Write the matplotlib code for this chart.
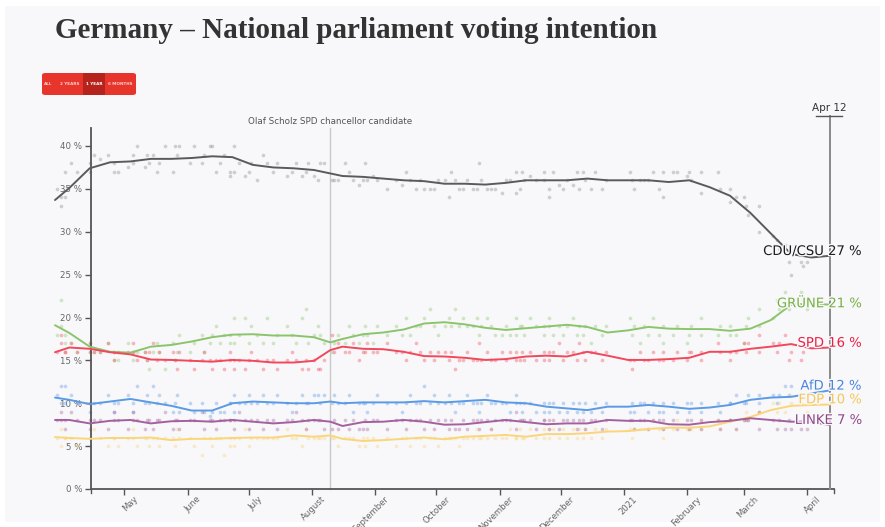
import numpy as np
import matplotlib
matplotlib.use("Agg")
import matplotlib.pyplot as plt
import matplotlib.transforms as mtransforms
from matplotlib.patches import FancyBboxPatch, Rectangle
from matplotlib import patheffects as pe

# ---- data -----------------------------------------------------------------
START = np.datetime64("2020-04-14")

parties = ["CDU/CSU", "GRÜNE", "SPD", "AfD", "FDP", "LINKE"]
latest = [27, 21, 16, 12, 10, 7]

trend_dates = np.array([
    "2020-03-28", "2020-04-04", "2020-04-14", "2020-04-24", "2020-05-04",
    "2020-05-14", "2020-05-24", "2020-06-03", "2020-06-13", "2020-06-23",
    "2020-07-03", "2020-07-13", "2020-07-23", "2020-08-02", "2020-08-10",
    "2020-08-16", "2020-08-26", "2020-09-05", "2020-09-15", "2020-09-25",
    "2020-10-05", "2020-10-15", "2020-10-25", "2020-11-04", "2020-11-14",
    "2020-11-24", "2020-12-04", "2020-12-14", "2020-12-24", "2021-01-03",
    "2021-01-13", "2021-01-23", "2021-02-02", "2021-02-12", "2021-02-22",
    "2021-03-04", "2021-03-14", "2021-03-24", "2021-04-03", "2021-04-12"],
    dtype="datetime64[D]")

trend_cdu = [33.7, 35.1, 37.4, 38.1, 38.2, 38.5, 38.5, 38.6, 38.8, 38.7,
             37.8, 37.5, 37.4, 37.2, 36.8, 36.5, 36.4, 36.2, 36.0, 35.9,
             35.6, 35.6, 35.5, 35.7, 36.0, 36.0, 36.0, 36.2, 36.0, 36.0,
             36.0, 35.8, 36.0, 35.2, 34.2, 32.2, 29.8, 27.4, 27.0, 27.2]
trend_gruene = [19.1, 18.2, 16.6, 16.0, 15.9, 16.6, 16.8, 17.2, 17.7, 18.0,
                18.05, 17.9, 17.9, 17.7, 17.1, 17.5, 18.05, 18.25, 18.6, 19.3,
                19.45, 19.2, 18.8, 18.55, 18.75, 18.95, 19.15, 18.9, 18.25, 18.5,
                18.9, 18.7, 18.65, 18.65, 18.45, 18.7, 19.7, 21.5, 21.6, 21.5]
trend_spd = [15.95, 16.5, 16.35, 15.95, 15.7, 15.1, 15.05, 14.95, 14.85, 15.05,
             14.95, 14.75, 14.75, 14.95, 16.2, 16.6, 16.35, 16.3, 16.0, 15.5,
             15.45, 15.3, 15.05, 15.15, 15.45, 15.55, 15.45, 16.0, 15.55, 15.05,
             15.05, 15.15, 15.3, 16.0, 16.0, 16.35, 16.6, 16.9, 16.4, 16.5]
trend_afd = [10.66, 10.4, 9.9, 10.2, 10.5, 10.1, 9.7, 9.15, 9.15, 10.0,
             10.2, 10.1, 10.0, 10.0, 10.2, 10.0, 10.1, 10.1, 10.1, 10.25,
             10.1, 10.25, 10.4, 10.1, 10.0, 9.6, 9.4, 9.2, 9.6, 9.6,
             9.8, 9.6, 9.35, 9.5, 9.8, 10.4, 10.66, 10.75, 11.15, 11.5]
trend_fdp = [6.05, 5.95, 5.85, 5.95, 5.95, 6.0, 5.7, 5.85, 5.85, 5.95,
             6.0, 6.0, 6.25, 6.1, 6.25, 5.85, 5.6, 5.7, 5.85, 6.0,
             5.8, 6.1, 6.2, 6.3, 6.1, 6.4, 6.4, 6.5, 6.7, 6.75,
             7.0, 7.15, 7.15, 7.3, 7.85, 8.4, 9.2, 9.7, 9.8, 9.85]
trend_linke = [8.05, 8.05, 7.65, 7.95, 8.05, 7.65, 7.9, 7.95, 7.85, 8.05,
               7.85, 7.65, 7.8, 8.05, 7.85, 7.35, 7.8, 7.85, 8.05, 7.85,
               7.5, 7.55, 7.8, 8.05, 7.8, 7.55, 7.65, 7.65, 8.05, 7.95,
               7.95, 7.55, 7.5, 7.8, 7.95, 8.25, 8.05, 7.85, 7.85, 7.45]

# individual polls, days after START
poll_day = [-16, -14, -14, -12, -12, -9, -6, 0, 0, 2,
            5, 9, 12, 12, 14, 19, 21, 21, 23, 27,
            28, 29, 31, 33, 34, 37, 41, 42, 43, 44,
            49, 51, 55, 56, 59, 60, 62, 64, 66, 69,
            69, 71, 71, 73, 76, 78, 79, 82, 85, 87,
            90, 92, 97, 99, 101, 104, 106, 107, 110, 112,
            113, 115, 119, 120, 122, 125, 127, 129, 132, 134,
            135, 136, 139, 141, 146, 150, 153, 155, 157, 160,
            162, 164, 167, 169, 171, 174, 176, 177, 179, 181,
            183, 185, 188, 190, 191, 192, 195, 197, 199, 202,
            204, 206, 209, 209, 211, 212, 213, 216, 219, 223,
            223, 225, 225, 227, 230, 232, 234, 237, 239, 240,
            242, 243, 246, 248, 251, 253, 265, 266, 267, 270,
            272, 274, 276, 279, 281, 281, 286, 288, 293, 294,
            295, 300, 300, 308, 309, 314, 314, 317, 321, 322,
            323, 328, 328, 335, 337, 338, 341, 343, 344, 349, 350, 352]
poll_cdu = [35, 34, 33, 34, 37, 38, 37, 38, 37, 39,
            38.5, 39, 38, 37, 37, 37.5, 38, 39, 40, 37.5,
            39, 38, 39, 37, 38, 40, 37, 40, 39, 40,
            38, 40, 38, 39, 40, 40, 37, 38, 39, 37,
            36.5, 37, 40, 38, 36.5, 37, 38, 36, 39, 38,
            37, 38, 36.5, 37, 38, 36.5, 37, 38, 36.5, 36,
            38, 38, 36, 36, 36, 38, 37, 36, 35.5, 36,
            38, 36, 36.5, 36, 35, 36, 35.5, 37, 36, 35,
            36, 35, 35, 35, 36, 36, 34, 37, 36, 35,
            35, 36, 35, 35, 38, 36, 35, 35, 35, 34.5,
            36, 36, 37, 34.5, 35, 37, 36, 36.5, 36, 37,
            36, 35, 34, 37, 35.5, 35, 36, 35.5, 37, 35,
            37, 36, 35, 37, 35, 36, 37, 36, 35, 36,
            36, 36, 37, 35, 37, 34, 37, 37, 36.5, 37,
            36, 37, 34.5, 37, 35, 35, 33.5, 34, 34, 33,
            32, 33, 30, 29.5, 29, 28, 28.5, 26.5, 25, 26.5, 26, 26.5]
poll_gruene = [18, 22, 19, 18, 17, 17, 16, 17, 16, 16,
               16, 17, 15, 16, 15, 17, 16, 15, 16, 16,
               15, 14, 16, 17, 16, 14, 17, 15, 16, 18,
               16, 17, 18, 16, 17, 18, 19, 17, 18, 17,
               18, 20, 17, 18, 20, 17, 19, 18, 17, 20,
               17, 18, 19, 18, 17, 20, 21, 17, 18, 19,
               18, 17, 16, 17, 18, 17, 19, 18, 17, 18,
               19, 18, 17, 19, 18, 19, 18, 20, 18, 19,
               19, 20, 21, 19, 18, 19, 20, 19, 21, 19,
               20, 19, 19, 20, 18, 19, 20, 19, 18, 18,
               19, 18, 20, 18, 19, 19, 18, 20, 19, 19,
               18, 19, 20, 18, 19, 18, 19, 20, 18, 19,
               18, 19, 17, 19, 18, 19, 20, 18, 19, 17,
               19, 18, 20, 18, 19, 17, 18, 19, 17, 18,
               19, 18, 20, 18, 19, 18, 19, 18, 17, 19,
               20, 19, 21, 20, 22, 21, 23, 21, 22, 23, 22, 21]
poll_spd = [16, 18, 17, 16, 16, 17, 16, 17, 16, 16,
            16, 17, 16, 15, 16, 16, 17, 16, 15, 16,
            15, 16, 17, 15, 16, 15, 16, 15, 14, 16,
            15, 14, 15, 16, 15, 14, 15, 15, 14, 16,
            15, 14, 15, 15, 14, 15, 16, 15, 14, 15,
            15, 14, 15, 16, 15, 14, 15, 14, 15, 14,
            14, 15, 18, 16, 17, 16, 16, 17, 15, 16,
            16, 17, 16, 16, 17, 16, 16, 15, 16, 17,
            16, 15, 16, 15, 16, 16, 15, 16, 14, 15,
            15, 16, 15, 15, 17, 15, 16, 15, 15, 16,
            15, 16, 15, 16, 15, 16, 15, 16, 15, 16,
            15, 16, 15, 16, 17, 15, 16, 16, 15, 17,
            16, 15, 16, 16, 15, 16, 15, 14, 15, 16,
            15, 15, 16, 15, 16, 15, 15, 16, 15, 16,
            16, 15, 16, 17, 16, 16, 15, 16, 17, 16,
            17, 16, 18, 17, 16, 17, 18, 15, 16, 15, 16, 17]
poll_afd = [11, 12, 10, 12, 10, 11, 10, 10, 9, 10,
            10, 11, 9, 10, 10, 11, 9, 10, 12, 10,
            11, 10, 12, 10, 11, 10, 9, 10, 11, 9,
            10, 9, 10, 9, 8.5, 9, 10, 9, 9, 10,
            10, 9, 11, 10, 10, 11, 10, 10, 11, 10,
            10, 11, 10, 9, 10, 11, 10, 10, 11, 11,
            10, 11, 10, 11, 10, 10, 11, 9, 10, 10,
            10, 9, 10, 11, 10, 10, 9, 10, 11, 10,
            10, 12, 10, 11, 10, 10, 11, 10, 9, 10,
            10, 11, 10, 10, 9, 10, 11, 10, 10, 10,
            10, 9, 11, 10, 10, 9, 10, 10, 9, 10,
            9, 10, 9, 10, 9, 10, 9, 10, 9, 10,
            9, 10, 9, 10, 9, 10, 9, 10, 9, 10,
            10, 9, 10, 9, 10, 9, 10, 9, 10, 9,
            10, 9, 10, 10, 9, 10, 10, 11, 10, 10,
            11, 10, 11, 11, 10, 11, 12, 11, 12, 11, 11, 12]
poll_fdp = [6, 7, 5, 6, 6, 6, 5, 6, 6, 7,
            6, 5, 6, 6, 5, 6, 7, 6, 5, 6,
            6, 5, 6, 6, 5, 6, 6, 5, 7, 6,
            6, 5, 4, 6, 6, 5, 6, 6, 4, 5,
            6, 5, 6, 6, 7, 5, 6, 6, 6, 6,
            6, 6, 7, 6, 6, 5, 7, 6, 6, 6,
            6, 6, 6, 6, 5, 6, 6, 6, 5, 6,
            5, 6, 6, 5, 6, 5, 6, 6, 5, 6,
            6, 5, 6, 6, 5, 6, 6, 6, 6, 5,
            6, 6, 6, 7, 6, 6, 6, 7, 6, 6,
            6, 7, 6, 6, 7, 6, 6, 7, 6, 7,
            6, 7, 6, 7, 6, 7, 6, 7, 6, 7,
            6, 7, 6, 7, 6, 7, 7, 6, 7, 7,
            7, 7, 8, 7, 7, 6, 7, 8, 7, 7,
            7, 8, 7, 8, 7, 8, 8, 7, 8, 9,
            8, 9, 9, 10, 9, 10, 9, 11, 10, 10, 11, 9]
poll_linke = [8, 9, 8, 8, 7, 9, 8, 8, 7, 8,
              8, 7, 8, 9, 8, 7, 8, 9, 8, 7,
              8, 8, 7, 8, 8, 9, 7, 8, 8, 7,
              8, 8, 9, 7, 8, 8, 7, 8, 8, 8,
              8, 7, 8, 9, 8, 7, 8, 8, 7, 8,
              8, 7, 8, 8, 9, 8, 7, 8, 8, 8,
              8, 7, 7, 8, 7, 8, 7, 8, 7, 7,
              8, 7, 8, 8, 7, 8, 8, 7, 8, 8,
              8, 7, 8, 7, 8, 8, 7, 8, 7, 7,
              8, 7, 8, 8, 7, 8, 8, 7, 8, 8,
              8, 8, 9, 7, 8, 8, 8, 8, 7, 8,
              8, 7, 8, 8, 7, 8, 8, 8, 7, 8,
              8, 7, 8, 8, 7, 8, 8, 8, 7, 8,
              8, 7, 8, 8, 7, 8, 8, 7, 8, 7,
              8, 7, 8, 8, 7, 8, 8, 7, 8, 8,
              8, 9, 7, 8, 7, 8, 7, 8, 7, 7, 8, 7]

month_ticks = np.array(["2020-05-01", "2020-06-01", "2020-07-01", "2020-08-01",
                        "2020-09-01", "2020-10-01", "2020-11-01", "2020-12-01",
                        "2021-01-01", "2021-02-01", "2021-03-01", "2021-04-01"],
                       dtype="datetime64[D]")
month_labels = ["May", "June", "July", "August", "September", "October",
                "November", "December", "2021", "February", "March", "April"]

scholz_date = np.datetime64("2020-08-10")
last_date = np.datetime64("2021-04-12")

# ---- styling --------------------------------------------------------------
line_colors = ["#5a5a5a", "#8cc46c", "#f2485c", "#5b9ae4", "#fad57a", "#a4609e"]
dot_colors = ["#8a8a8a", "#8cc46c", "#f2485c", "#5b9ae4", "#fad57a", "#a4609e"]
text_colors = ["#1b1b1b", "#76b043", "#ec1f43", "#4a86dd", "#f6c65a", "#8d4788"]
label_y = [27.7, 21.6, 17.0, 12.0, 10.4, 8.0]
BG = "#f8f8fa"

W, H = 885, 527
fig = plt.figure(figsize=(W / 100, H / 100), dpi=100, facecolor="white")
fig.patches.append(Rectangle((5 / W, 5 / H), 1 - 10 / W, 1 - 11 / H,
                             transform=fig.transFigure, facecolor=BG,
                             edgecolor="none", zorder=-10))

ax = fig.add_axes([90.7 / W, 1 - 489 / H, (834 - 90.7) / W, (489 - 128) / H])
ax.set_facecolor("none")

trends = [trend_cdu, trend_gruene, trend_spd, trend_afd, trend_fdp, trend_linke]
polls = [poll_cdu, poll_gruene, poll_spd, poll_afd, poll_fdp, poll_linke]
poll_dates = START + np.array(poll_day).astype("timedelta64[D]")

for i in range(len(parties)):
    ax.scatter(poll_dates, polls[i], s=7, color=dot_colors[i], alpha=0.38,
               linewidths=0, zorder=2, clip_on=False)
for i in range(len(parties)):
    ax.plot(trend_dates, trends[i], color=line_colors[i], lw=1.4, zorder=4,
            clip_on=False, solid_capstyle="round")

ax.set_ylim(0, (489 - 128) / 8.575)
ax.set_xlim(np.datetime64("2020-04-14T12:00"), np.datetime64("2021-04-14T00:00"))

ax.set_yticks(np.arange(0, 41, 5))
ax.set_yticklabels([f"{v} %" for v in range(0, 41, 5)])
ax.set_xticks(month_ticks)
ax.set_xticklabels(month_labels)
ax.tick_params(axis="y", length=4, width=1, color="#555555", labelsize=6.2,
               labelcolor="#666666", pad=2)
ax.tick_params(axis="x", length=4, width=1, color="#555555", labelsize=6.1,
               labelcolor="#666666", pad=1)
offset = mtransforms.ScaledTranslation(0.09, 0.015, fig.dpi_scale_trans)
for lab in ax.get_xticklabels():
    lab.set_rotation(45)
    lab.set_ha("right")
    lab.set_va("top")
    lab.set_rotation_mode("anchor")
    lab.set_transform(lab.get_transform() + offset)

for side in ["top", "right"]:
    ax.spines[side].set_visible(False)
ax.spines["left"].set_color("#555555")
ax.spines["bottom"].set_color("#555555")
ax.spines["left"].set_linewidth(1.3)
ax.spines["bottom"].set_linewidth(1.3)

# end ticks of x axis
tr = ax.get_xaxis_transform()
for xf in [0.0, 1.0]:
    ax.plot([xf, xf], [0, -4 / 361], transform=ax.transAxes, color="#555555",
            lw=1, clip_on=False)

# Scholz marker
ax.plot([scholz_date, scholz_date], [0, 1.0], transform=tr, color="#c8c8c8",
        lw=1, zorder=1, clip_on=False)
ax.text(scholz_date, 1.005, "Olaf Scholz SPD chancellor candidate", transform=tr,
        ha="center", va="bottom", fontsize=6.3, color="#555555")

# latest date marker
ax.plot([last_date, last_date], [0, (489 - 116) / 361], transform=tr,
        color="#8a8a8a", lw=1.4, zorder=3, clip_on=False)
fig.lines.append(plt.Line2D([816 / W, 842 / W], [1 - 116 / H, 1 - 116 / H],
                            transform=fig.transFigure, color="#555555", lw=1))
fig.text(829 / W, 1 - 108 / H, "Apr 12", ha="center", va="center",
         fontsize=7.5, color="#333333")

# party labels on the right
for i in range(len(parties)):
    ax.text(1.0377, label_y[i], f"{parties[i]} {latest[i]} %",
            transform=ax.get_yaxis_transform(), ha="right", va="center",
            fontsize=9.5, color=text_colors[i], zorder=6,
            path_effects=[pe.withStroke(linewidth=2, foreground=BG)])

# title
fig.text(55 / W, 1 - 31 / H, "Germany – National parliament voting intention",
         ha="left", va="center", fontsize=21, fontweight="bold",
         family="Liberation Serif", color="#333333")

# range buttons
fig.patches.append(FancyBboxPatch((42 / W, 1 - 95 / H), 94 / W, 22 / H,
                                  boxstyle="round,pad=0,rounding_size=0.004",
                                  transform=fig.transFigure,
                                  facecolor="#e8352c", edgecolor="none"))
fig.patches.append(Rectangle((83 / W, 1 - 95 / H), 22 / W, 22 / H,
                             transform=fig.transFigure, facecolor="#b5231c",
                             edgecolor="none"))
buttons = [("ALL", 48.5), ("2 YEARS", 69.5), ("1 YEAR", 94), ("6 MONTHS", 120.5)]
for name, bx in buttons:
    fig.text(bx / W, 1 - 84 / H, name, ha="center", va="center", fontsize=3.0,
             color="white" if name == "1 YEAR" else "#f8cfc8",
             fontweight="bold", family="DejaVu Sans")

fig.savefig("out.png", dpi=100, facecolor=fig.get_facecolor())
